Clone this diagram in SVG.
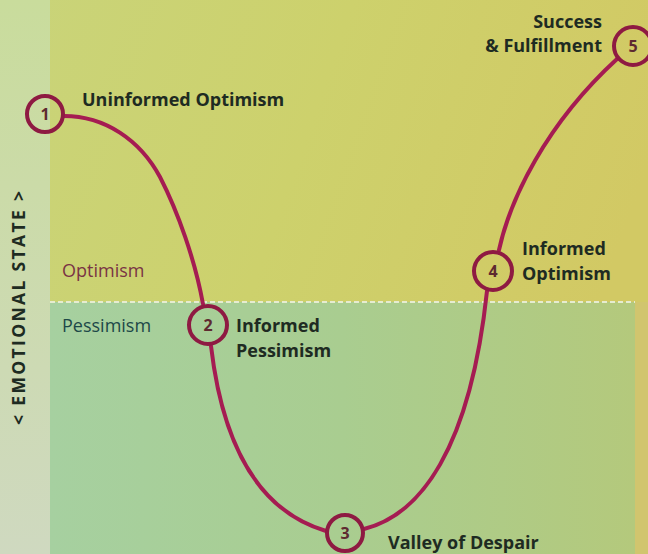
<svg xmlns="http://www.w3.org/2000/svg" width="648" height="554" viewBox="0 0 648 554">
<defs>
<linearGradient id="top" x1="0" y1="0" x2="1" y2="0.3">
<stop offset="0" stop-color="#c9d47a"/>
<stop offset="0.5" stop-color="#cdd16c"/>
<stop offset="1" stop-color="#d2c964"/>
</linearGradient>
<linearGradient id="low" x1="0" y1="0" x2="1" y2="0">
<stop offset="0" stop-color="#a6d0a0"/>
<stop offset="0.5" stop-color="#a9cd90"/>
<stop offset="1" stop-color="#b4c97c"/>
</linearGradient>
<linearGradient id="strip" x1="0" y1="0" x2="0" y2="1">
<stop offset="0" stop-color="#c9dc9c"/>
<stop offset="1" stop-color="#cfd9c0"/>
</linearGradient>
<style>
.curve{fill:none;stroke:#a51c52;stroke-width:4;stroke-linecap:round}
.node circle{fill:none;stroke:#8e1a42;stroke-width:4}
.num{font-family:"Open Sans","Liberation Sans",sans-serif;font-weight:700;font-size:16px;fill:#5e2a30;text-anchor:middle}
.lbl{font-family:"Open Sans","Liberation Sans",sans-serif;font-weight:700;font-size:18px;fill:#1e2b22}
.zone{font-family:"Open Sans","Liberation Sans",sans-serif;font-size:18px}
</style>
</defs>
<rect x="0" y="0" width="648" height="554" fill="url(#top)"/>
<rect x="0" y="0" width="50" height="554" fill="url(#strip)"/>
<rect x="50" y="302" width="585" height="252" fill="url(#low)"/>
<rect x="635" y="302" width="13" height="252" fill="#d1c56e"/>
<line x1="50" y1="302" x2="635" y2="302" stroke="#e6ecd0" stroke-width="2" stroke-dasharray="5 3"/>

<text transform="translate(25,308) rotate(-90)" text-anchor="middle" font-family="'Open Sans','Liberation Sans',sans-serif" font-weight="700" font-size="17.5" fill="#1e2b22" textLength="234" lengthAdjust="spacing">&lt; EMOTIONAL STATE &gt;</text>
<text class="zone" x="62" y="277" fill="#7a3444">Optimism</text>
<text class="zone" x="62" y="332" fill="#1d4848">Pessimism</text>

<g id="connectors">
<path class="curve" d="M64,116 C105,116 140,140 160,177 C178,212 195,260 203,304"/>
<path class="curve" d="M211,346 C222,440 255,510 326,531"/>
<path class="curve" d="M364,529 C420,515 470,450 487,291"/>
<path class="curve" d="M499,250 C510,200 545,125 617,59"/>
</g>

<g id="node1" class="node">
<circle cx="45" cy="114" r="18"/>
<text class="num" x="45" y="120">1</text>
<text class="lbl" x="82" y="106">Uninformed Optimism</text>
</g>
<g id="node2" class="node">
<circle cx="208" cy="325" r="19"/>
<text class="num" x="208" y="331">2</text>
<text class="lbl" x="236" y="332">Informed</text>
<text class="lbl" x="236" y="357">Pessimism</text>
</g>
<g id="node3" class="node">
<circle cx="345" cy="533" r="18"/>
<text class="num" x="345" y="539">3</text>
<text class="lbl" x="388" y="549" font-size="17.5">Valley of Despair</text>
</g>
<g id="node4" class="node">
<circle cx="493" cy="271" r="19"/>
<text class="num" x="493" y="277">4</text>
<text class="lbl" x="522" y="255">Informed</text>
<text class="lbl" x="522" y="280">Optimism</text>
</g>
<g id="node5" class="node">
<circle cx="633" cy="46" r="19"/>
<text class="num" x="633" y="52">5</text>
<text class="lbl" x="602" y="28" text-anchor="end">Success</text>
<text class="lbl" x="602" y="52" text-anchor="end">&amp; Fulfillment</text>
</g>
</svg>
